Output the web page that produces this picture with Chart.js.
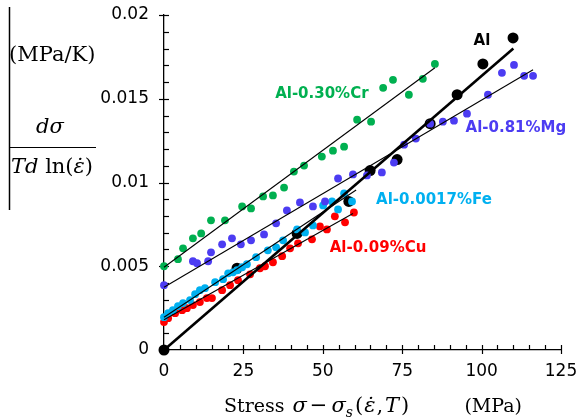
<!DOCTYPE html>
<html><head><meta charset="utf-8">
<script src="https://cdn.jsdelivr.net/npm/chart.js@4.4.0/dist/chart.umd.min.js"></script>
<style>html,body{margin:0;padding:0;background:#fff;}#wrap{width:579px;height:419px;}</style>
</head><body><div id="wrap"><canvas id="c" width="579" height="419"></canvas></div>
<script>
// ---- data ----
const alX=[0,23.0,41.9,58.2,64.9,73.4,83.8,92.3,100.4,109.9];
const alY=[0,0.00488,0.00696,0.00887,0.01071,0.01137,0.01351,0.01524,0.01708,0.01863];

const crX=[0,4.4,6.0,9.1,11.7,14.8,19.2,24.6,27.4,31.2,34.3,37.8,40.9,44.1,49.7,53.2,56.7,60.8,65.2,69.0,72.1,77.1,81.5,85.3];
const crY=[0.00500,0.00542,0.00607,0.00667,0.00696,0.00774,0.00774,0.00857,0.00845,0.00917,0.00923,0.00970,0.01065,0.01101,0.01155,0.01190,0.01214,0.01375,0.01363,0.01565,0.01613,0.01524,0.01619,0.01708];

const mgX=[0,9.1,10.4,13.9,14.8,18.3,21.4,24.2,27.4,31.5,35.3,38.7,42.8,46.9,50.7,54.8,59.5,63.9,68.6,72.4,75.6,79.3,83.8,87.8,91.3,95.4,102.0,106.4,110.2,113.4,116.2];
const mgY=[0.00387,0.00530,0.00518,0.00530,0.00583,0.00631,0.00667,0.00631,0.00655,0.00690,0.00756,0.00833,0.00881,0.00857,0.00887,0.01024,0.01048,0.01042,0.01060,0.01119,0.01226,0.01262,0.01351,0.01363,0.01369,0.01411,0.01524,0.01655,0.01702,0.01637,0.01637];

const feX=[0,1.3,2.8,4.4,6.0,8.2,9.8,11.3,12.9,16.1,18.6,20.2,21.7,23.0,24.6,26.1,29.0,32.7,35.3,37.5,41.9,44.4,46.9,50.1,52.9,54.8,56.7,59.2];
const feY=[0.00196,0.00220,0.00238,0.00262,0.00280,0.00298,0.00333,0.00357,0.00369,0.00405,0.00423,0.00458,0.00464,0.00476,0.00494,0.00512,0.00554,0.00595,0.00613,0.00655,0.00720,0.00702,0.00744,0.00863,0.00887,0.00839,0.00935,0.00887];

const cuX=[0,1.3,3.5,5.7,7.2,9.1,11.3,13.5,15.1,18.3,20.8,23.3,27.1,30.2,31.8,34.3,37.2,39.7,42.2,46.6,49.1,51.3,53.8,57.0,59.8];
const cuY=[0.00167,0.00190,0.00220,0.00238,0.00250,0.00268,0.00286,0.00310,0.00310,0.00357,0.00387,0.00417,0.00452,0.00488,0.00500,0.00524,0.00560,0.00607,0.00637,0.00661,0.00738,0.00720,0.00798,0.00762,0.00821];

// fitted straight lines (end points)
const fitAlX=[0,110], fitAlY=[0,0.0180];
const fitCrX=[0,85.3], fitCrY=[0.00494,0.01685];
const fitMgX=[0,116.2], fitMgY=[0.00375,0.01673];
const fitFeX=[0,60.5], fitFeY=[0.00196,0.00955];
const fitCuX=[0,59.5], fitCuY=[0.00180,0.00815];

const seriesNames=['Al','Al-0.30%Cr','Al-0.81%Mg','Al-0.0017%Fe','Al-0.09%Cu'];
const xTickStep=5, yTickStep=0.001;

const COL={al:'#000000',cr:'#00b050',mg:'#4c3cf2',fe:'#00b0f0',cu:'#ff0000'};
const pts=(xs,ys)=>xs.map((x,i)=>({x:x,y:ys[i]}));

function pointSet(label,xs,ys,color,r,order){
  return {label:label,data:pts(xs,ys),showLine:false,pointRadius:r,pointHoverRadius:r,
    pointBackgroundColor:color,pointBorderColor:color,pointBorderWidth:0,order:order,clip:false};
}
function lineSet(xs,ys,w){
  return {label:'fit',data:pts(xs,ys),showLine:true,pointRadius:0,borderColor:'#000',
    borderWidth:w,order:0,clip:false,fill:false};
}

const decor={
  id:'decor',
  beforeDatasetsDraw(chart){
    const ctx=chart.ctx,xs=chart.scales.x,ys=chart.scales.y;
    ctx.save();ctx.strokeStyle='#000';ctx.lineWidth=1.2;
    const ax=xs.left, ay=ys.bottom;
    ys.ticks.forEach(t=>{
      const p=Math.round(ys.getPixelForValue(t.value))+0.5;
      const major=Math.round(t.value*1000)%5===0;
      ctx.beginPath();ctx.moveTo(ax-(major?5:0),p);ctx.lineTo(ax+5,p);ctx.stroke();
    });
    xs.ticks.forEach(t=>{
      const p=Math.round(xs.getPixelForValue(t.value))+0.5;
      const major=Math.round(t.value)%25===0;
      ctx.beginPath();ctx.moveTo(p,ay+(major?4:0));ctx.lineTo(p,ay-5);ctx.stroke();
    });
    ctx.restore();
  },
  afterDraw(chart){
    const ctx=chart.ctx,xs=chart.scales.x,ys=chart.scales.y;
    ctx.save();
    // series labels
    const labs=[[seriesNames[1],49.7,0.0153,COL.cr],[seriesNames[0],100.1,0.01845,COL.al],
      [seriesNames[2],110.8,0.01327,COL.mg],[seriesNames[3],85.0,0.00893,COL.fe],[seriesNames[4],67.4,0.00607,COL.cu]];
    ctx.font='bold 15px "DejaVu Sans"';ctx.textAlign='center';ctx.textBaseline='middle';
    labs.forEach(l=>{ctx.fillStyle=l[3];ctx.fillText(l[0],xs.getPixelForValue(l[1]),ys.getPixelForValue(l[2]));});
    // rich text helper
    ctx.fillStyle='#000';ctx.textAlign='left';ctx.textBaseline='alphabetic';
    function rich(x,y,segs){
      segs.forEach(s=>{ctx.font=s.f;ctx.fillText(s.t,x,y+(s.dy||0));x+=ctx.measureText(s.t).width+(s.gap||0);});
      return x;
    }
    const R='19px "DejaVu Serif"', MR='21px "DejaVu Serif"', I='italic 21px "DejaVu Serif"', S='italic 14px "DejaVu Serif"';
    // x axis title
    rich(224,412,[{t:'Stress ',f:R,gap:2},{t:'\u03c3',f:I,gap:3},{t:'\u2212',f:MR,gap:4},{t:'\u03c3',f:I},{t:'s',f:S,dy:5,gap:2},
      {t:'(',f:MR,gap:1},{t:'\u03b5\u0307',f:I,gap:1},{t:',',f:MR,gap:2},{t:'T',f:I,gap:2},{t:')',f:MR}]);
    ctx.font=R;ctx.textAlign='right';ctx.fillText('(MPa)',522,412);ctx.textAlign='left';
    // y axis title
    ctx.strokeStyle='#000';ctx.lineWidth=1.5;
    ctx.beginPath();ctx.moveTo(9.5,7);ctx.lineTo(9.5,210);ctx.stroke();
    const R2='21px "DejaVu Serif"', I2='italic 21px "DejaVu Serif"';
    rich(9,61,[{t:'(MPa/K)',f:R2}]);
    rich(36,133,[{t:'d\u03c3',f:I2}]);
    ctx.lineWidth=1.2;ctx.beginPath();ctx.moveTo(9,147.5);ctx.lineTo(96,147.5);ctx.stroke();
    rich(11,173,[{t:'Td',f:I2},{t:' ln(',f:R2},{t:'\u03b5\u0307',f:I2},{t:')',f:R2}]);
    ctx.restore();
  }
};

new Chart(document.getElementById('c'),{
  type:'scatter',
  data:{datasets:[
    lineSet(fitAlX,fitAlY,2.6),
    lineSet(fitCrX,fitCrY,1.1),
    lineSet(fitMgX,fitMgY,1.1),
    lineSet(fitFeX,fitFeY,1.1),
    lineSet(fitCuX,fitCuY,1.1),
    pointSet(seriesNames[1],crX,crY,COL.cr,3.9,1),
    pointSet(seriesNames[2],mgX,mgY,COL.mg,3.9,1),
    pointSet(seriesNames[3],feX,feY,COL.fe,3.9,1),
    pointSet(seriesNames[4],cuX,cuY,COL.cu,3.9,1),
    pointSet(seriesNames[0],alX,alY,COL.al,5.5,2)
  ]},
  options:{
    responsive:false,animation:false,devicePixelRatio:1,
    layout:{padding:{left:0,top:15,right:18,bottom:0}},
    plugins:{legend:{display:false},tooltip:{enabled:false}},
    scales:{
      x:{type:'linear',position:'bottom',min:0,max:125,
        ticks:{stepSize:xTickStep,autoSkip:false,maxRotation:0,padding:11,color:'#000',
          font:{family:'DejaVu Sans',size:17},
          callback:v=>Math.round(v)%25===0?String(Math.round(v)):''},
        grid:{display:false,drawTicks:false},
        border:{display:true,color:'#000',width:1.3},
        afterFit(s){s.height=69;s.paddingLeft=0;s.paddingRight=0;}
      },
      y:{type:'linear',position:'left',min:0,max:0.02,
        ticks:{stepSize:yTickStep,autoSkip:false,padding:15,color:'#000',
          font:{family:'DejaVu Sans',size:17},
          callback:v=>{const m=Math.round(v*1000);return m%5===0?String(m/1000):'';}},
        grid:{display:false,drawTicks:false},
        border:{display:true,color:'#000',width:1.3},
        afterFit(s){s.width=164;s.paddingTop=0;s.paddingBottom=0;}
      }
    }
  },
  plugins:[decor]
});
</script></body></html>
